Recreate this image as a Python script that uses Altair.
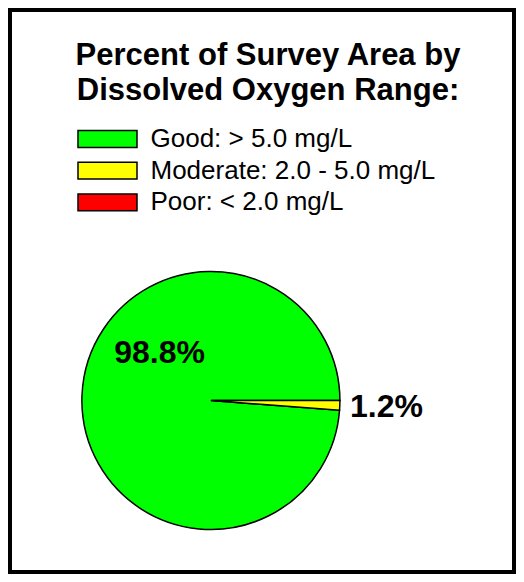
import math
import altair as alt
import pandas as pd

categories = ["Good: > 5.0 mg/L", "Moderate: 2.0 - 5.0 mg/L", "Poor: < 2.0 mg/L"]
percent = [98.8, 1.2, 0.0]
colors = ["#00FF00", "#FFFF00", "#FF0000"]
slice_order = [2, 1, 3]
title_lines = ["Percent of Survey Area by", "Dissolved Oxygen Range:"]

df = pd.DataFrame({"category": categories, "percent": percent, "slice": slice_order})

FONT = "Liberation Sans"
ysc = alt.Scale(type="point", domain=categories, range=[129, 192.3], padding=0)

pie = alt.Chart(df).transform_filter("datum.percent > 0").mark_arc(
    outerRadius=129, stroke="black", strokeWidth=1.5
).encode(
    theta=alt.Theta("percent:Q", stack=True,
                    scale=alt.Scale(range=[math.pi / 2, math.pi / 2 + 2 * math.pi])),
    order=alt.Order("slice:Q"),
    color=alt.Color("category:N", scale=alt.Scale(domain=categories, range=colors), legend=None),
    x=alt.value(200.9),
    y=alt.value(390.5),
)

swatch = alt.Chart(df).mark_point(
    shape="M-1,-0.285H1V0.285H-1Z", size=59 * 59, filled=True, opacity=1,
    stroke="black", strokeWidth=1.5
).encode(
    x=alt.value(97.5),
    y=alt.Y("category:N", scale=ysc, axis=None),
    fill=alt.Fill("category:N", scale=alt.Scale(domain=categories, range=colors), legend=None),
)

legend_text = alt.Chart(df).mark_text(
    align="left", baseline="middle", fontSize=26, font=FONT, color="black"
).encode(
    x=alt.value(140.5),
    y=alt.Y("category:N", scale=ysc, axis=None),
    text="category:N",
)

def title_line(i, ypos):
    return alt.Chart(pd.DataFrame({"t": [title_lines[i]]})).mark_text(
        align="center", baseline="middle", fontSize=31, fontWeight="bold", font=FONT, color="black"
    ).encode(x=alt.value(258), y=alt.value(ypos), text="t:N")

def pct_label(cat, xpos, ypos):
    return alt.Chart(df).transform_filter(
        alt.datum.category == cat
    ).transform_calculate(
        lbl="format(datum.percent, '.1f') + '%'"
    ).mark_text(
        align="center", baseline="middle", fontSize=32, fontWeight="bold", font=FONT, color="black"
    ).encode(x=alt.value(xpos), y=alt.value(ypos), text="lbl:N")

chart = alt.layer(
    pie,
    swatch,
    legend_text,
    title_line(0, 45.7),
    title_line(1, 80.8),
    pct_label(categories[0], 149.5, 342.8),
    pct_label(categories[1], 376.5, 397.3),
).properties(
    width=504, height=562, padding=2, autosize="none", background="white"
).configure_view(stroke="black", strokeWidth=4)

chart.save("out.html", embed_options={"renderer": "svg", "actions": False})
